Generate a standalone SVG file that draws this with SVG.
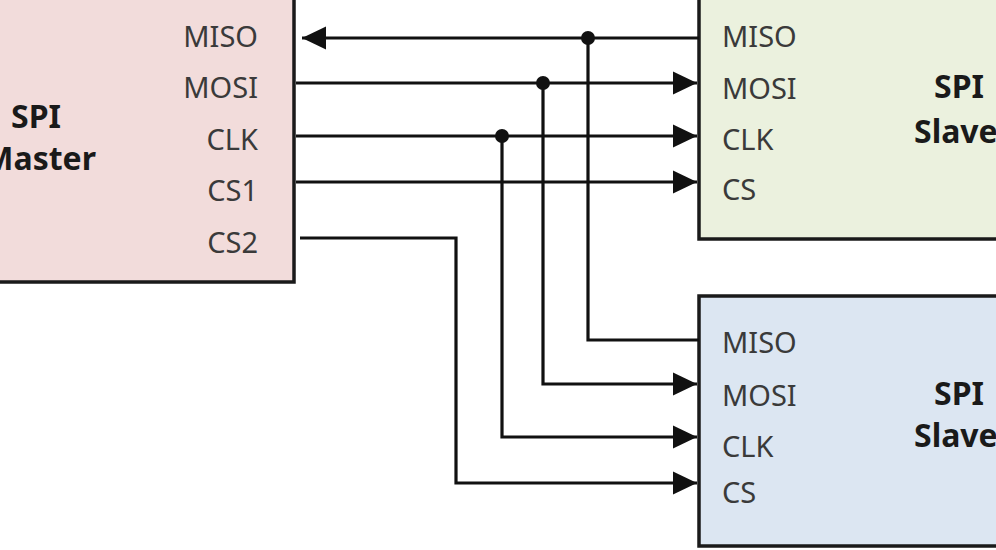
<svg xmlns="http://www.w3.org/2000/svg" width="996" height="550" viewBox="0 0 996 550">
<defs>
<marker id="arr" markerUnits="userSpaceOnUse" markerWidth="26" markerHeight="24" refX="25" refY="12" orient="auto">
<path d="M1,0.5 L25,12 L1,23.5 z" fill="#111"/>
</marker>
<style>
.box{stroke:#1a1a1a;stroke-width:3.5}
.lbl{font-family:"Noto Sans","Open Sans","Liberation Sans",sans-serif;font-size:29px;fill:#3a3a3a}
.ttl{font-family:"Noto Sans","Open Sans","Liberation Sans",sans-serif;font-size:32px;font-weight:bold;fill:#1a1a1a}
.w{fill:none;stroke:#111;stroke-width:3.2}
.dot{fill:#111}
</style>
</defs>
<rect width="996" height="550" fill="#ffffff"/>
<g id="master">
<rect class="box" x="-10" y="-10" width="304" height="292" fill="#f2dcdb"/>
<text class="ttl" x="11" y="128">SPI</text>
<text class="ttl" x="96" y="170" text-anchor="end">Master</text>
<g class="lbl" text-anchor="end">
<text x="258" y="47">MISO</text>
<text x="258" y="98">MOSI</text>
<text x="258" y="150">CLK</text>
<text x="258" y="201">CS1</text>
<text x="258" y="253">CS2</text>
</g>
</g>
<g id="slave1">
<rect class="box" x="699" y="-10" width="310" height="249" fill="#ebf1de"/>
<text class="ttl" x="959" y="98" text-anchor="middle">SPI</text>
<text class="ttl" x="914" y="143">Slave</text>
<g class="lbl">
<text x="722" y="47">MISO</text>
<text x="722" y="99">MOSI</text>
<text x="722" y="150">CLK</text>
<text x="722" y="200">CS</text>
</g>
</g>
<g id="slave2">
<rect class="box" x="699" y="296" width="310" height="250" fill="#dce6f2"/>
<text class="ttl" x="959" y="405" text-anchor="middle">SPI</text>
<text class="ttl" x="914" y="447">Slave</text>
<g class="lbl">
<text x="722" y="353">MISO</text>
<text x="722" y="406">MOSI</text>
<text x="722" y="457">CLK</text>
<text x="722" y="503">CS</text>
</g>
</g>
<g id="connectors">
<path class="w" d="M699,38 L302,38" marker-end="url(#arr)"/>
<path class="w" d="M296,83 L697,83" marker-end="url(#arr)"/>
<path class="w" d="M296,136 L697,136" marker-end="url(#arr)"/>
<path class="w" d="M296,182 L697,182" marker-end="url(#arr)"/>
<path class="w" d="M300,238 L456,238 L456,483 L697,483" marker-end="url(#arr)"/>
<path class="w" d="M588,38 L588,340 L699,340"/>
<path class="w" d="M543,83 L543,384 L697,384" marker-end="url(#arr)"/>
<path class="w" d="M502,136 L502,437 L697,437" marker-end="url(#arr)"/>
<circle class="dot" cx="588" cy="38" r="7"/>
<circle class="dot" cx="543" cy="83" r="7"/>
<circle class="dot" cx="502" cy="136" r="7"/>
</g>
</svg>
